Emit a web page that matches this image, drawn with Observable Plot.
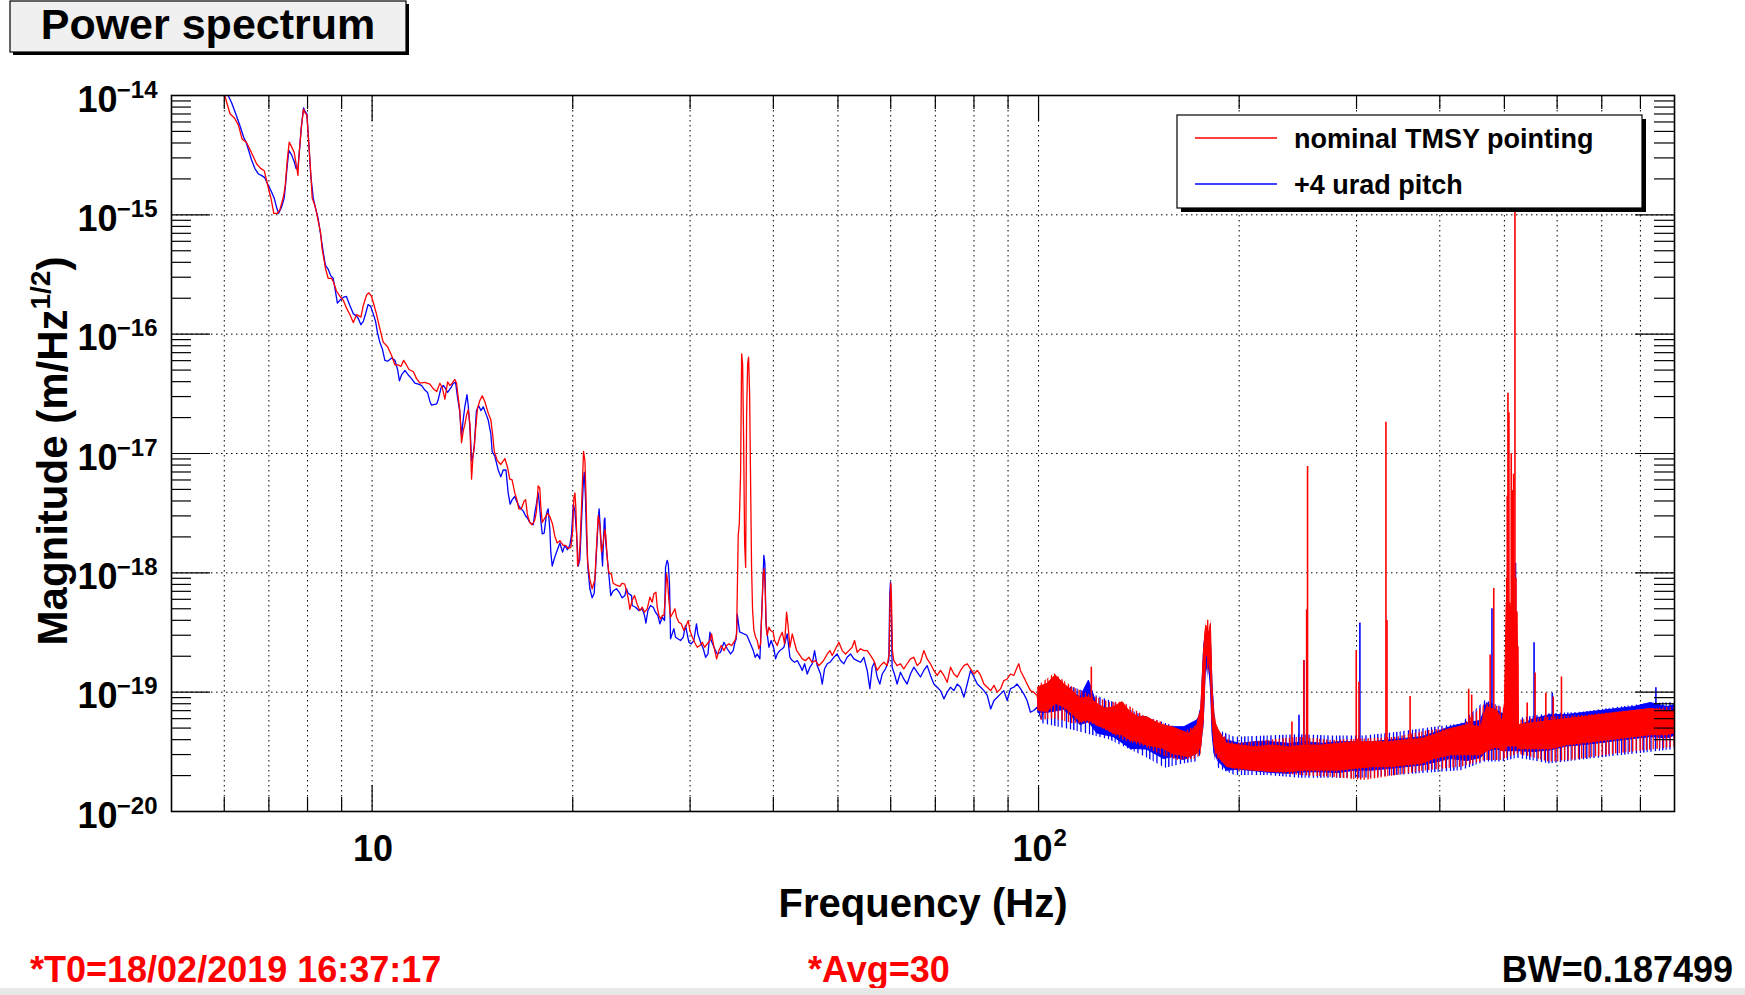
<!DOCTYPE html>
<html>
<head>
<meta charset="utf-8">
<script src="https://cdn.jsdelivr.net/npm/d3@7"></script>
<script src="https://cdn.jsdelivr.net/npm/@observablehq/plot@0.6"></script>
<style>
  html, body { margin: 0; padding: 0; background: #ffffff; }
  #wrap { position: relative; width: 1745px; height: 995px; overflow: hidden; font-family: "Liberation Sans", Arial, Helvetica, sans-serif; }
  #overlay { position: absolute; left: 0; top: 0; pointer-events: none; }
</style>
</head>
<body>
<div id="wrap">
  <div id="chart"></div>
  <svg id="overlay" width="1745" height="995" font-family="Liberation Sans, Arial, Helvetica, sans-serif" font-weight="bold">
    <defs>
      <pattern id="redStripes" patternUnits="userSpaceOnUse" width="17" height="10">
        <rect x="0" y="0" width="1.4" height="10" fill="#ff0000"></rect>
        <rect x="3.6" y="0" width="1.2" height="10" fill="#ff0000"></rect>
        <rect x="7.4" y="0" width="1.4" height="10" fill="#ff0000"></rect>
        <rect x="10.2" y="0" width="1.1" height="10" fill="#ff0000"></rect>
        <rect x="13.8" y="0" width="1.4" height="10" fill="#ff0000"></rect>
      </pattern>
      <pattern id="blueStripes" patternUnits="userSpaceOnUse" width="19" height="10">
        <rect x="1.8" y="0" width="1.3" height="10" fill="#0000ff"></rect>
        <rect x="5.9" y="0" width="1.2" height="10" fill="#0000ff"></rect>
        <rect x="9.1" y="0" width="1.4" height="10" fill="#0000ff"></rect>
        <rect x="12.6" y="0" width="1.1" height="10" fill="#0000ff"></rect>
        <rect x="16.3" y="0" width="1.3" height="10" fill="#0000ff"></rect>
      </pattern>
    </defs>
    <!-- title box -->
    <rect x="13" y="4" width="396" height="51" fill="#000"></rect>
    <rect x="10" y="1" width="396" height="51" fill="#f0f0f0" stroke="#000" stroke-width="1.2"></rect>
    <text id="titleText" x="208" y="39" text-anchor="middle" font-size="43"></text>
    <!-- legend -->
    <rect x="1181" y="119" width="465" height="93" fill="#000"></rect>
    <rect x="1177" y="115" width="465" height="93" fill="#fff" stroke="#000" stroke-width="1.2"></rect>
    <g id="legendItems"></g>
    <!-- y-axis title -->
    <text transform="translate(67,451) rotate(-90)" text-anchor="middle" font-size="42"><tspan id="yTitleMain"></tspan><tspan id="yTitleSup" dy="-17" font-size="28"></tspan><tspan id="yTitleEnd" dy="17"></tspan></text>
    <!-- footer -->
    <g id="footer"></g>
    <rect x="0" y="988" width="1745" height="7" fill="#e8e8e8"></rect>
  </svg>
</div>
<script>
// ---------------- DATA ----------------
const titleLabel = "Power spectrum";
const xTitle = "Frequency (Hz)";
const yTitleParts = ["Magnitude (m/Hz", "1/2", ")"];
const seriesNames = ["nominal TMSY pointing", "+4 urad pitch"];
const seriesColors = ["#ff0000", "#0000ff"];
const footerLeft = "*T0=18/02/2019 16:37:17";
const footerMid = "*Avg=30";
const footerRight = "BW=0.187499";

// axis ranges and ticks
const xDomain = [5, 900];
const yDomain = [1e-20, 1e-14];
const xMajorTicks = [10, 100];
const xMinorTicks = [6, 7, 8, 9, 20, 30, 40, 50, 60, 70, 80, 90, 200, 300, 400, 500, 600, 700, 800];
const yExponents = [-20, -19, -18, -17, -16, -15, -14];
const xTickLabelBase = ["10", "10"];
const xTickLabelExp = ["", "2"];

// nominal TMSY pointing (red): [frequency Hz, magnitude m/sqrt(Hz)]
const redLine = [[5.9,1.15e-14],[6.01,1.0e-14],[6.12,7.03e-15],[6.22,6.44e-15],[6.30,5.64e-15],[6.38,4.33e-15],[6.48,4.04e-15],[6.59,3.33e-15],[6.71,2.67e-15],[6.81,2.44e-15],[6.89,2.34e-15],[6.98,1.72e-15],[7.05,1.38e-15],[7.12,1.03e-15],[7.21,1.03e-15],[7.27,1.10e-15],[7.36,1.41e-15],[7.41,1.79e-15],[7.46,2.91e-15],[7.51,4.07e-15],[7.57,3.73e-15],[7.64,3.33e-15],[7.69,2.67e-15],[7.74,2.14e-15],[7.76,2.91e-15],[7.80,4.14e-15],[7.83,5.40e-15],[7.89,7.67e-15],[7.93,7.16e-15],[7.98,6.90e-15],[8.00,5.64e-15],[8.04,3.79e-15],[8.09,2.23e-15],[8.13,1.38e-15],[8.20,1.21e-15],[8.25,1.06e-15],[8.30,8.87e-16],[8.37,7.11e-16],[8.41,5.23e-16],[8.47,4.19e-16],[8.51,3.57e-16],[8.59,2.94e-16],[8.69,2.94e-16],[8.76,2.70e-16],[8.84,2.30e-16],[8.95,2.07e-16],[9.05,1.93e-16],[9.15,1.66e-16],[9.26,1.46e-16],[9.37,1.25e-16],[9.48,1.46e-16],[9.62,1.39e-16],[9.70,1.74e-16],[9.81,2.13e-16],[9.89,2.22e-16],[9.98,2.07e-16],[10.07,1.74e-16],[10.15,1.48e-16],[10.21,1.28e-16],[10.31,1.02e-16],[10.39,8.58e-17],[10.55,7.85e-17],[10.70,6.59e-17],[10.82,5.52e-17],[10.94,5.52e-17],[11.05,5.38e-17],[11.15,6.03e-17],[11.26,5.52e-17],[11.36,5.06e-17],[11.53,4.84e-17],[11.66,4.24e-17],[11.80,3.88e-17],[12.00,3.95e-17],[12.21,3.81e-17],[12.35,3.49e-17],[12.50,3.31e-17],[12.64,3.88e-17],[12.74,3.56e-17],[12.86,2.85e-17],[12.98,3.98e-17],[13.08,3.72e-17],[13.19,3.88e-17],[13.31,4.17e-17],[13.39,3.88e-17],[13.46,2.98e-17],[13.54,2.29e-17],[13.62,1.23e-17],[13.70,1.54e-17],[13.78,1.76e-17],[13.86,2.10e-17],[13.94,2.33e-17],[14.02,1.76e-17],[14.10,6.10e-18],[14.17,9.48e-18],[14.23,1.13e-17],[14.30,1.61e-17],[14.39,2.39e-17],[14.51,2.78e-17],[14.63,3.04e-17],[14.76,2.73e-17],[14.93,2.19e-17],[15.07,1.92e-17],[15.16,1.47e-17],[15.25,1.04e-17],[15.42,8.67e-18],[15.60,8.09e-18],[15.73,8.67e-18],[15.82,9.07e-18],[15.97,7.60e-18],[16.09,6.10e-18],[16.22,6.00e-18],[16.37,4.68e-18],[16.49,4.10e-18],[16.60,3.44e-18],[16.75,3.44e-18],[16.91,4.00e-18],[17.00,4.10e-18],[17.10,3.07e-18],[17.24,2.64e-18],[17.38,2.53e-18],[17.54,2.76e-18],[17.64,3.24e-18],[17.75,5.35e-18],[17.85,5.12e-18],[17.91,3.60e-18],[18.00,2.64e-18],[18.16,2.88e-18],[18.33,3.15e-18],[18.48,2.96e-18],[18.65,2.57e-18],[18.80,2.03e-18],[18.95,1.78e-18],[19.13,1.86e-18],[19.35,1.70e-18],[19.51,1.70e-18],[19.69,1.60e-18],[19.87,1.63e-18],[19.99,2.21e-18],[20.08,4.29e-18],[20.15,4.68e-18],[20.22,3.44e-18],[20.34,1.14e-18],[20.43,1.25e-18],[20.50,1.63e-18],[20.62,3.60e-18],[20.69,6.10e-18],[20.76,1.04e-17],[20.86,8.67e-18],[20.93,4.68e-18],[21.05,1.25e-18],[21.22,8.77e-19],[21.39,7.36e-19],[21.59,8.77e-19],[21.71,1.63e-18],[21.84,3.01e-18],[21.96,2.53e-18],[22.09,1.49e-18],[22.22,1.78e-18],[22.35,2.31e-18],[22.42,2.03e-18],[22.55,1.25e-18],[22.66,1.00e-18],[22.86,9.75e-19],[22.99,8.18e-19],[23.26,7.89e-19],[23.53,7.69e-19],[23.72,8.18e-19],[23.94,8.04e-19],[24.22,6.17e-19],[24.36,4.95e-19],
[24.56,5.86e-19],[24.76,6.46e-19],[24.99,5.43e-19],[25.22,4.83e-19],[25.43,5.15e-19],[25.63,4.68e-19],[25.87,4.99e-19],[26.11,6.25e-19],[26.32,5.67e-19],[26.47,6.67e-19],[26.66,6.89e-19],[26.78,5.15e-19],[26.94,4.39e-19],[27.09,4.11e-19],[27.25,4.39e-19],[27.41,4.39e-19],[27.56,6.67e-19],[27.66,9.82e-19],[27.75,8.63e-19],[27.88,5.86e-19],[28.04,4.25e-19],[28.30,4.68e-19],[28.47,4.99e-19],[28.63,4.25e-19],[28.86,3.86e-19],[29.10,3.74e-19],[29.36,3.29e-19],[29.60,3.62e-19],[29.81,3.98e-19],[29.98,3.29e-19],[30.23,2.89e-19],[30.47,2.62e-19],[30.75,2.38e-19],[31.04,2.46e-19],[31.29,2.62e-19],[31.54,2.38e-19],[31.83,2.54e-19],[32.13,2.71e-19],[32.31,3.08e-19],[32.58,2.38e-19],[32.88,1.90e-19],[33.14,2.23e-19],[33.41,2.46e-19],[33.72,2.23e-19],[34.03,2.46e-19],[34.31,2.54e-19],[34.62,2.46e-19],[34.90,2.62e-19],[35.11,2.80e-19],[35.23,3.08e-19],[35.31,6.67e-19],[35.43,2.06e-18],[35.56,2.57e-18],[35.72,6.75e-18],[35.85,6.84e-17],[35.97,5.64e-17],[36.10,1.21e-17],[36.22,1.75e-18],[36.35,1.11e-18],[36.47,2.15e-17],[36.60,5.64e-17],[36.72,6.41e-17],[36.85,3.16e-17],[36.98,5.40e-18],[37.10,1.11e-18],[37.23,4.83e-19],[37.40,3.29e-19],[37.62,2.89e-19],[37.83,2.71e-19],[38.05,2.31e-19],[38.27,2.54e-19],[38.49,5.67e-19],[38.62,9.82e-19],[38.76,1.08e-18],[38.89,7.11e-19],[39.03,3.40e-19],[39.16,2.99e-19],[39.39,3.51e-19],[39.61,3.29e-19],[39.98,3.18e-19],[40.17,2.71e-19],[40.54,2.46e-19],[40.91,2.89e-19],[41.25,3.18e-19],[41.58,2.54e-19],[41.87,4.68e-19],[42.06,3.74e-19],[42.36,2.38e-19],[42.70,3.08e-19],[42.95,2.71e-19],[43.35,2.23e-19],[43.70,2.09e-19],[44.20,1.90e-19],[44.71,1.84e-19],[45.23,1.96e-19],[45.75,1.78e-19],[46.28,1.84e-19],[46.81,1.67e-19],[47.36,1.78e-19],[47.74,1.90e-19],[48.19,2.09e-19],[48.63,2.23e-19],[49.02,2.03e-19],[49.59,2.31e-19],[50.16,2.62e-19],[50.74,2.23e-19],[51.33,2.09e-19],[51.92,2.23e-19],[52.52,2.38e-19],[52.95,2.71e-19],[53.44,2.16e-19],[54.06,2.31e-19],[54.69,2.23e-19],[55.32,2.23e-19],[55.96,2.03e-19],[56.60,1.84e-19],[57.26,1.52e-19],[57.92,1.67e-19],[58.59,1.78e-19],[59.27,1.67e-19],[59.68,2.09e-19],[59.88,6.25e-19],[60.02,8.18e-19],[60.16,6.05e-19],[60.36,2.23e-19],[60.64,1.84e-19],[61.34,1.67e-19],[62.05,1.73e-19],[62.77,1.57e-19],[63.50,1.73e-19],[64.24,1.90e-19],[64.98,1.96e-19],[65.74,1.67e-19],[66.50,1.78e-19],[67.27,2.23e-19],[68.05,1.90e-19],[68.84,1.73e-19],[69.64,1.52e-19],[70.45,1.38e-19],[71.27,1.52e-19],[72.10,1.38e-19],[72.93,1.21e-19],[73.78,1.62e-19],[74.64,1.42e-19],[75.50,1.34e-19],[76.38,1.52e-19],[77.27,1.67e-19],[78.16,1.73e-19],[79.07,1.57e-19],[79.99,1.42e-19],[80.92,1.52e-19],[81.86,1.38e-19],[82.80,1.17e-19],[83.77,1.10e-19],[84.74,1.03e-19],[85.72,1.14e-19],[86.72,1.00e-19],[87.72,1.07e-19],[88.70,1.25e-19],[89.73,1.29e-19],[90.76,1.42e-19],[91.80,1.38e-19],[92.86,1.62e-19],[93.40,1.73e-19],[93.93,1.52e-19],[95.01,1.34e-19],[96.12,1.17e-19],[97.23,1.03e-19],[98.35,1.00e-19],[99.49,9.38e-20],[100.4,7.02e-20],[101.2,7.73e-20],[102.0,9.08e-20],[103.0,1.10e-19],[104.2,1.03e-19],[105.4,1.14e-19],[106.0,1.38e-19],[106.6,1.17e-19],[107.8,9.68e-20]];

// red dense-noise core above 100 Hz: [frequency, lower edge, upper edge]
const redBand = [[100.0,7.02e-20,1.10e-19],[103.0,6.79e-20,1.17e-19],[106.1,7.98e-20,1.38e-19],[109.2,7.48e-20,1.17e-19],[112.3,6.58e-20,1.03e-19],[115.6,5.61e-20,8.79e-20],[119.0,5.79e-20,9.08e-20],[122.5,5.26e-20,7.98e-20],[126.1,4.93e-20,7.24e-20],[129.7,4.48e-20,7.48e-20],[133.6,4.34e-20,8.24e-20],[137.4,3.94e-20,6.79e-20],[141.4,3.81e-20,6.17e-20],[145.5,3.57e-20,6.17e-20],[149.8,3.46e-20,5.61e-20],[154.2,3.35e-20,5.26e-20],[158.7,3.04e-20,5.09e-20],[163.3,2.94e-20,4.78e-20],[168.1,2.85e-20,4.48e-20],[173.0,3.04e-20,5.26e-20],[175.4,3.46e-20,7.02e-20],[177.0,5.79e-20,2.09e-19],[178.5,2.09e-19,3.62e-19],[180.1,1.84e-19,3.08e-19],[181.4,1.42e-19,3.74e-19],[182.4,5.79e-20,1.10e-19],[183.7,3.46e-20,5.79e-20],[186.4,2.85e-20,4.78e-20],[191.9,2.35e-20,3.69e-20],[200.5,2.28e-20,3.57e-20],[211.7,2.20e-20,3.46e-20],[224.2,2.14e-20,3.57e-20],[237.5,2.14e-20,3.46e-20],[251.6,2.20e-20,3.57e-20],[266.5,2.20e-20,3.57e-20],[282.3,2.20e-20,3.69e-20],[299.2,2.28e-20,3.81e-20],[316.8,2.35e-20,3.81e-20],[335.7,2.35e-20,3.81e-20],[355.5,2.43e-20,3.94e-20],[376.6,2.51e-20,4.06e-20],[392,2.74e-20,4.36e-20],[415,2.96e-20,4.90e-20],[440,2.96e-20,5.30e-20],[461,2.96e-20,5.09e-20],[471,3.20e-20,7.50e-20],[488,3.46e-20,6.95e-20],[497,3.20e-20,5.73e-20],[501,3.20e-20,8.11e-20],[504,3.50e-20,5.6e-19],[522,3.50e-20,4.7e-19],[524,3.40e-20,2.4e-19],[526,3.33e-20,5.30e-20],[554,3.33e-20,5.51e-20],[587,3.33e-20,5.73e-20],[621,3.59e-20,5.95e-20],[658,3.73e-20,6.19e-20],[697,3.88e-20,6.43e-20],[739,4.04e-20,6.69e-20],[783,4.20e-20,6.95e-20],[829,4.36e-20,7.22e-20],[878,4.36e-20,6.95e-20],[900,4.53e-20,6.95e-20]];

// outer reach of the red noise tips: [frequency, lowest tip, highest tip]
const redTips = [[100.7,5.79e-20,1.17e-19],[105.7,5.98e-20,1.43e-19],[112.6,5.43e-20,1.10e-19],[120.0,5.43e-20,9.38e-20],[127.7,4.62e-20,8.24e-20],[134.1,3.94e-20,8.24e-20],[144.8,3.46e-20,6.18e-20],[153.1,2.94e-20,5.61e-20],[162.0,2.67e-20,4.34e-20],[172.4,2.76e-20,5.26e-20],[175.4,3.0e-20,7.5e-20],[177.0,5.0e-20,2.5e-19],[178.5,1.8e-19,4.0e-19],[181.4,1.2e-19,4.0e-19],[182.4,5.0e-20,1.3e-19],[184.0,3.0e-20,6.5e-20],[186.2,2.67e-20,4.62e-20],[197,2.21e-20,3.69e-20],[220.2,2.14e-20,3.94e-20],[246.2,2.00e-20,4.20e-20],[275.4,1.94e-20,3.94e-20],[307.9,1.82e-20,4.06e-20],[344.4,2.00e-20,4.20e-20],[385.1,2.21e-20,4.78e-20],[430.5,2.35e-20,5.09e-20],[468.2,2.67e-20,7.98e-20],[495.3,2.67e-20,7.48e-20],[523.6,3.04e-20,5.79e-20],[585.5,2.59e-20,6.18e-20],[654.8,2.76e-20,6.38e-20],[732.2,3.04e-20,6.79e-20],[818.8,3.24e-20,7.24e-20],[900,3.46e-20,7.48e-20]];

// red narrow lines: [frequency, foot, peak]
const redSpikes = [[120.0,8e-20,1.62e-19],[240.0,3.5e-20,5.61e-20],[250.1,3.5e-20,1.84e-19],[252.5,3.5e-20,4.9e-19],[253.3,3.5e-20,7.8e-18],[299.7,3.7e-20,2.23e-19],[302.5,3.7e-20,1.21e-19],[332.1,3.7e-20,1.83e-17],[333.3,3.7e-20,3.99e-19],[361.0,3.9e-20,9.2e-20],[442.0,5e-20,1.06e-19],[446.6,5e-20,9.47e-20],[476.0,6e-20,2.05e-19],[482.0,6e-20,7.4e-19],[504.0,5e-20,9.0e-19],[505.0,5e-20,4.4e-18],[506.2,5e-20,3.2e-17],[507.9,5e-20,2.2e-17],[509.6,5e-20,5.6e-19],[512.0,5e-20,1.0e-17],[514.4,5e-20,4.9e-18],[516.2,5e-20,6.7e-18],[518.6,5e-20,2e-15],[520.4,5e-20,9.0e-19],[522.2,5e-20,4.7e-19],[524.0,5e-20,2.4e-19],[541.0,5e-20,8.1e-20],[556.0,5e-20,1.45e-19],[577.0,5.5e-20,9.8e-20],[592.0,5.5e-20,9.1e-20],[609.0,5.5e-20,1.34e-19]];

// +4 urad pitch (blue)
const blueLine = [[6.0,1.15e-14],[6.08,1.0e-14],[6.15,8.77e-15],[6.26,6.73e-15],[6.33,5.64e-15],[6.41,4.53e-15],[6.48,3.96e-15],[6.59,2.91e-15],[6.67,2.44e-15],[6.75,2.20e-15],[6.82,2.14e-15],[6.90,2.05e-15],[6.98,1.79e-15],[7.06,1.57e-15],[7.13,1.38e-15],[7.19,1.15e-15],[7.24,1.03e-15],[7.31,1.15e-15],[7.38,1.38e-15],[7.41,1.72e-15],[7.45,2.44e-15],[7.50,3.47e-15],[7.57,3.18e-15],[7.64,2.79e-15],[7.69,2.44e-15],[7.74,2.48e-15],[7.79,3.79e-15],[7.83,5.40e-15],[7.89,7.88e-15],[7.93,7.35e-15],[7.98,7.03e-15],[8.00,5.89e-15],[8.04,3.79e-15],[8.09,2.14e-15],[8.16,1.38e-15],[8.22,1.15e-15],[8.30,9.27e-16],[8.38,6.52e-16],[8.45,4.79e-16],[8.51,3.77e-16],[8.59,3.51e-16],[8.67,3.08e-16],[8.74,2.94e-16],[8.79,2.47e-16],[8.87,1.82e-16],[8.95,1.93e-16],[9.05,2.03e-16],[9.15,2.07e-16],[9.26,1.74e-16],[9.37,1.48e-16],[9.46,1.43e-16],[9.53,1.36e-16],[9.62,1.20e-16],[9.70,1.28e-16],[9.77,1.46e-16],[9.86,1.77e-16],[9.95,1.71e-16],[10.04,1.48e-16],[10.12,1.28e-16],[10.19,1.02e-16],[10.27,8.58e-17],[10.36,7.52e-17],[10.45,6.03e-17],[10.55,5.93e-17],[10.70,6.31e-17],[10.82,6.03e-17],[10.92,5.06e-17],[10.99,4.06e-17],[11.07,4.55e-17],[11.20,4.97e-17],[11.33,4.55e-17],[11.46,4.24e-17],[11.59,3.88e-17],[11.73,3.81e-17],[11.86,3.72e-17],[12.00,3.40e-17],[12.11,3.25e-17],[12.21,2.73e-17],[12.28,2.54e-17],[12.50,2.61e-17],[12.57,2.85e-17],[12.69,3.56e-17],[12.79,3.72e-17],[12.89,3.49e-17],[12.98,3.25e-17],[13.13,3.56e-17],[13.24,3.88e-17],[13.34,3.95e-17],[13.43,2.98e-17],[13.53,2.29e-17],[13.62,1.41e-17],[13.70,1.92e-17],[13.78,2.50e-17],[13.88,3.11e-17],[13.94,2.50e-17],[14.04,1.47e-17],[14.10,8.67e-18],[14.17,9.48e-18],[14.23,1.13e-17],[14.34,2.29e-17],[14.46,2.50e-17],[14.56,2.29e-17],[14.68,2.46e-17],[14.80,2.19e-17],[14.93,1.92e-17],[15.07,1.47e-17],[15.14,1.04e-17],[15.28,9.48e-18],[15.37,8.29e-18],[15.46,7.27e-18],[15.60,6.37e-18],[15.73,7.27e-18],[15.88,7.27e-18],[16.00,4.68e-18],[16.11,3.76e-18],[16.22,4.10e-18],[16.37,4.36e-18],[16.49,3.93e-18],[16.60,3.66e-18],[16.72,3.44e-18],[16.86,3.29e-18],[16.99,3.01e-18],[17.10,2.88e-18],[17.24,2.64e-18],[17.45,2.53e-18],[17.54,3.15e-18],[17.64,3.76e-18],[17.75,4.68e-18],[17.81,3.93e-18],[17.91,2.76e-18],[18.00,2.12e-18],[18.12,2.15e-18],[18.27,3.15e-18],[18.37,3.44e-18],[18.48,2.31e-18],[18.54,1.49e-18],[18.63,1.14e-18],[18.76,1.31e-18],[18.91,1.49e-18],[19.13,1.78e-18],[19.31,1.49e-18],[19.46,1.70e-18],[19.64,1.56e-18],[19.80,1.70e-18],[19.92,2.12e-18],[20.04,3.76e-18],[20.15,3.29e-18],[20.27,2.12e-18],[20.39,1.14e-18],[20.50,1.31e-18],[20.62,2.76e-18],[20.74,5.58e-18],[20.81,6.97e-18],[20.90,4.29e-18],[20.97,2.12e-18],[21.09,1.05e-18],[21.22,7.36e-19],[21.39,6.17e-19],[21.54,6.75e-19],[21.69,1.36e-18],[21.84,2.76e-18],[21.91,3.44e-18],[22.04,1.94e-18],[22.17,1.14e-18],[22.30,2.76e-18],[22.35,2.88e-18],[22.42,1.78e-18],[22.53,1.36e-18],[22.66,9.59e-19],[22.81,6.44e-19],[22.99,7.05e-19],[23.26,7.36e-19],[23.53,6.75e-19],[23.72,6.17e-19],[23.94,6.44e-19],[24.08,7.36e-19],[24.22,6.75e-19],[24.51,6.44e-19],
[24.56,5.32e-19],[24.85,5.15e-19],[25.13,4.83e-19],[25.43,4.99e-19],[25.63,4.39e-19],[25.75,3.79e-19],[25.93,4.83e-19],[26.17,5.32e-19],[26.41,5.15e-19],[26.62,4.68e-19],[26.84,4.39e-19],[27.03,3.74e-19],[27.25,4.25e-19],[27.47,3.98e-19],[27.56,1.11e-18],[27.72,1.27e-18],[27.82,1.19e-18],[27.94,8.09e-19],[28.04,2.80e-19],[28.20,3.08e-19],[28.36,3.40e-19],[28.53,2.89e-19],[28.76,2.80e-19],[29.03,2.71e-19],[29.30,2.89e-19],[29.53,3.62e-19],[29.70,3.08e-19],[29.87,2.62e-19],[30.11,2.54e-19],[30.39,2.71e-19],[30.67,3.74e-19],[30.81,3.08e-19],[31.11,2.62e-19],[31.40,2.31e-19],[31.65,1.96e-19],[31.91,2.09e-19],[32.13,3.18e-19],[32.27,2.71e-19],[32.58,2.38e-19],[32.95,2.09e-19],[33.33,2.16e-19],[33.72,2.62e-19],[34.11,2.31e-19],[34.50,2.09e-19],[34.82,2.23e-19],[35.03,2.62e-19],[35.19,2.80e-19],[35.31,4.5e-19],[35.6,3.2e-19],[36.5,3.0e-19],[37.32,2.23e-19],[37.57,1.96e-19],[37.83,2.09e-19],[38.18,1.90e-19],[38.49,5.86e-19],[38.71,1.40e-18],[38.85,1.19e-18],[38.98,3.98e-19],[39.16,3.08e-19],[39.39,2.38e-19],[39.70,2.71e-19],[40.08,2.31e-19],[40.31,1.90e-19],[40.54,2.09e-19],[40.91,2.23e-19],[41.25,2.31e-19],[41.48,2.38e-19],[41.96,3.08e-19],[42.36,1.96e-19],[42.70,1.84e-19],[43.05,1.78e-19],[43.45,1.84e-19],[43.85,1.67e-19],[44.20,1.52e-19],[44.56,1.73e-19],[44.97,1.42e-19],[45.38,1.62e-19],[45.75,1.73e-19],[46.12,2.23e-19],[46.54,1.67e-19],[47.08,1.42e-19],[47.36,1.17e-19],[47.74,1.57e-19],[48.19,1.73e-19],[48.63,1.78e-19],[49.30,1.96e-19],[49.87,2.09e-19],[50.45,1.84e-19],[51.03,1.73e-19],[51.62,1.96e-19],[52.22,2.09e-19],[52.83,1.90e-19],[53.44,1.84e-19],[54.06,1.78e-19],[54.69,1.96e-19],[55.32,1.52e-19],[55.83,1.07e-19],[56.28,1.62e-19],[56.73,1.78e-19],[57.26,1.34e-19],[57.79,1.17e-19],[58.26,1.42e-19],[58.93,1.57e-19],[59.61,1.84e-19],[59.81,6.67e-19],[59.95,8.36e-19],[60.09,6.67e-19],[60.29,1.62e-19],[60.78,1.42e-19],[61.34,1.17e-19],[62.05,1.47e-19],[62.77,1.29e-19],[63.50,1.17e-19],[64.24,1.42e-19],[64.98,1.62e-19],[65.74,1.47e-19],[66.50,1.34e-19],[67.27,1.52e-19],[68.05,1.67e-19],[68.84,1.38e-19],[69.64,1.17e-19],[70.45,1.10e-19],[71.27,1.03e-19],[72.10,8.79e-20],[72.93,1.00e-19],[73.78,1.10e-19],[74.64,1.03e-19],[75.50,1.17e-19],[76.38,1.10e-19],[77.27,9.08e-20],[78.16,1.17e-19],[79.07,1.52e-19],[79.99,1.34e-19],[80.92,1.17e-19],[81.86,1.10e-19],[82.80,1.03e-19],[83.77,9.38e-20],[84.74,7.24e-20],[85.72,8.51e-20],[86.72,9.08e-20],[87.72,9.68e-20],[88.70,1.03e-19],[89.73,8.51e-20],[90.76,1.07e-19],[91.80,1.10e-19],[92.86,1.17e-19],[93.93,1.07e-19],[95.01,9.68e-20],[96.12,8.51e-20],[97.23,6.79e-20],[98.35,7.02e-20],[99.49,7.48e-20],[100.9,5.97e-20],[101.8,7.02e-20],[103.0,7.98e-20],[104.2,8.79e-20],[105.4,1.07e-19],[106.6,1.03e-19],[107.8,1.10e-19]];

const blueBand = [[100.0,6.7e-20,9.68e-20],[103.0,6.7e-20,1.17e-19],[109.2,7.1e-20,1.10e-19],[112.3,6.2e-20,1.00e-19],[115.6,5.3e-20,9.08e-20],[119.0,5.6e-20,1.25e-19],[122.5,4.5e-20,7.73e-20],[129.7,4.2e-20,7.02e-20],[137.4,3.35e-20,6.17e-20],[145.5,3.3e-20,6.17e-20],[154.2,2.75e-20,4.78e-20],[158.7,2.85e-20,5.09e-20],[165.5,2.7e-20,5.09e-20],[173.0,3.04e-20,5.79e-20],[175.4,3.46e-20,6.58e-20],[177.0,5.79e-20,2.09e-19],[178.5,1.84e-19,3.08e-19],[180.1,1.62e-19,2.89e-19],[181.4,1.17e-19,2.71e-19],[182.4,4.48e-20,1.17e-19],[183.7,3.04e-20,5.43e-20],[186.4,2.6e-20,4.48e-20],[191.9,2.2e-20,3.94e-20],[200.5,2.24e-20,3.69e-20],[211.7,2.17e-20,3.81e-20],[224.2,2.1e-20,3.81e-20],[237.5,2.07e-20,3.69e-20],[251.6,2.13e-20,3.81e-20],[266.5,2.13e-20,3.69e-20],[282.3,2.1e-20,3.81e-20],[299.2,2.2e-20,3.81e-20],[316.8,2.2e-20,3.81e-20],[335.7,2.27e-20,3.94e-20],[355.5,2.35e-20,4.06e-20],[376.6,2.43e-20,4.20e-20],[392,2.55e-20,4.53e-20],[415,2.75e-20,5.09e-20],[440,2.65e-20,5.51e-20],[461,2.8e-20,5.73e-20],[471,3.20e-20,8.11e-20],[488,3.3e-20,6.95e-20],[501,3.20e-20,6.43e-20],[523,3.20e-20,5.09e-20],[554,3.15e-20,5.95e-20],[587,3.25e-20,6.43e-20],[621,3.5e-20,6.43e-20],[658,3.6e-20,6.69e-20],[697,3.73e-20,6.95e-20],[739,3.9e-20,7.22e-20],[783,4.05e-20,7.50e-20],[829,4.2e-20,8.11e-20],[878,4.1e-20,7.50e-20],[900,4.3e-20,7.80e-20]];

const blueTips = [[100.7,5.5e-20,1.10e-19],[112.6,4.8e-20,1.10e-19],[127.7,4.0e-20,8.5e-20],[144.8,2.85e-20,6.2e-20],[155,2.3e-20,5.5e-20],[165,2.5e-20,4.8e-20],[172.4,2.6e-20,5.5e-20],[175.4,3.0e-20,7.5e-20],[177,5.0e-20,2.5e-19],[178.5,1.6e-19,3.5e-19],[181.4,1.0e-19,3.2e-19],[182.4,4.0e-20,1.3e-19],[184,2.7e-20,6.5e-20],[186.2,2.3e-20,4.8e-20],[197,2.0e-20,4.2e-20],[220.2,2.0e-20,4.3e-20],[246.2,1.9e-20,4.4e-20],[275.4,1.9e-20,4.3e-20],[307.9,1.9e-20,4.3e-20],[344.4,2.0e-20,4.6e-20],[385.1,2.1e-20,5.0e-20],[430.5,2.2e-20,5.4e-20],[468.2,2.6e-20,8.5e-20],[495.3,2.6e-20,7.5e-20],[523.6,2.8e-20,6.0e-20],[585.5,2.5e-20,6.6e-20],[654.8,2.7e-20,6.8e-20],[732.2,2.9e-20,7.4e-20],[818.8,3.1e-20,8.0e-20],[900,3.3e-20,8.2e-20]];

const blueSpikes = [[245.9,3.5e-20,6.4e-20],[250.1,3.5e-20,1.84e-19],[303.5,3.7e-20,3.79e-19],[479.0,6e-20,5.0e-19],[519.6,5e-20,1.2e-18],[554.0,5e-20,2.6e-19],[590.0,5.5e-20,9.8e-20],[844.0,7e-20,1.09e-19]];

// ---------------- RENDER ----------------
const W = 1745, H = 995;
const mL = 171, mR = 71, mT = 95, mB = 184;
const innerW = W - mL - mR, innerH = H - mT - mB;
const font = "Liberation Sans, Arial, Helvetica, sans-serif";

const yMajor = yExponents.map(e => Math.pow(10, e));
const yGrid = yMajor.slice(1, -1);
const yMinor = [];
yExponents.slice(0, -1).forEach(e => { for (let k = 2; k <= 9; k++) yMinor.push(k * Math.pow(10, e)); });
const xGrid = [...xMinorTicks, ...xMajorTicks];
const xLabels = xMajorTicks.map((v, i) => ({v, base: xTickLabelBase[i], exp: xTickLabelExp[i]}));
const yLabels = yExponents.map(e => ({v: Math.pow(10, e), exp: "\u2212" + Math.abs(e)}));

const lineStyle = (c) => ({x: d => d[0], y: d => d[1], stroke: c, strokeWidth: 1.3, clip: true});
const bandStyle = (c) => ({x: d => d[0], y1: d => d[1], y2: d => d[2], fill: c, stroke: c, strokeWidth: 1, clip: true});
const tipStyle = (p) => ({x: d => d[0], y1: d => d[1], y2: d => d[2], fill: p, clip: true});
const spikeStyle = (c) => ({x: d => d[0], y1: d => d[1], y2: d => d[2], stroke: c, strokeWidth: 1.6, clip: true});
const grid = {stroke: "#000", strokeWidth: 1, strokeDasharray: "1.5,3.5"};
const bold = {fontWeight: "bold", fill: "#000", fontFamily: font, lineAnchor: "bottom"};

const chart = Plot.plot({
  width: W, height: H,
  marginLeft: mL, marginRight: mR, marginTop: mT, marginBottom: mB,
  style: {background: "white", fontFamily: font, overflow: "visible"},
  x: {type: "log", domain: xDomain, axis: null},
  y: {type: "log", domain: yDomain, axis: null},
  marks: [
    Plot.ruleX(xGrid, grid),
    Plot.ruleY(yGrid, grid),
    Plot.areaY(blueTips, tipStyle("url(#blueStripes)")),
    Plot.areaY(blueBand, bandStyle(seriesColors[1])),
    Plot.line(blueLine, lineStyle(seriesColors[1])),
    Plot.ruleX(blueSpikes, spikeStyle(seriesColors[1])),
    Plot.areaY(redTips, tipStyle("url(#redStripes)")),
    Plot.areaY(redBand, bandStyle(seriesColors[0])),
    Plot.line(redLine, lineStyle(seriesColors[0])),
    Plot.ruleX(redSpikes, spikeStyle(seriesColors[0])),
    // inward ticks
    Plot.ruleX(xMajorTicks, {stroke: "#000", strokeWidth: 1.2, insetTop: innerH - 26}),
    Plot.ruleX(xMajorTicks, {stroke: "#000", strokeWidth: 1.2, insetBottom: innerH - 26}),
    Plot.ruleX(xMinorTicks, {stroke: "#000", strokeWidth: 1.2, insetTop: innerH - 14}),
    Plot.ruleX(xMinorTicks, {stroke: "#000", strokeWidth: 1.2, insetBottom: innerH - 14}),
    Plot.ruleY(yMajor, {stroke: "#000", strokeWidth: 1.2, insetRight: innerW - 39}),
    Plot.ruleY(yMajor, {stroke: "#000", strokeWidth: 1.2, insetLeft: innerW - 39}),
    Plot.ruleY(yMinor, {stroke: "#000", strokeWidth: 1.2, insetRight: innerW - 20}),
    Plot.ruleY(yMinor, {stroke: "#000", strokeWidth: 1.2, insetLeft: innerW - 20}),
    Plot.frame({stroke: "#000", strokeWidth: 1.6}),
    // y tick labels 10^e
    Plot.text(yLabels, {...bold, y: d => d.v, text: () => "10", frameAnchor: "left", textAnchor: "end", dx: -54, dy: 16, fontSize: 36}),
    Plot.text(yLabels, {...bold, y: d => d.v, text: d => d.exp, frameAnchor: "left", textAnchor: "end", dx: -14, dy: 2, fontSize: 24}),
    // x tick labels
    Plot.text(xLabels.filter(d => !d.exp), {...bold, x: d => d.v, text: d => d.base, frameAnchor: "bottom", textAnchor: "middle", dx: 1, dy: 49, fontSize: 36}),
    Plot.text(xLabels.filter(d => d.exp), {...bold, x: d => d.v, text: d => d.base, frameAnchor: "bottom", textAnchor: "start", dx: -26, dy: 49, fontSize: 36}),
    Plot.text(xLabels.filter(d => d.exp), {...bold, x: d => d.v, text: d => d.exp, frameAnchor: "bottom", textAnchor: "start", dx: 15, dy: 34, fontSize: 24}),
    // x axis title
    Plot.text([xTitle], {...bold, frameAnchor: "bottom", textAnchor: "middle", dx: 0, dy: 105, fontSize: 40})
  ]
});
document.getElementById("chart").appendChild(chart);

// overlay texts
const ns = "http://www.w3.org/2000/svg";
document.getElementById("titleText").textContent = titleLabel;
document.getElementById("yTitleMain").textContent = yTitleParts[0];
document.getElementById("yTitleSup").textContent = yTitleParts[1];
document.getElementById("yTitleEnd").textContent = yTitleParts[2];

const leg = document.getElementById("legendItems");
seriesNames.forEach((name, i) => {
  const ly = [138, 184][i], ty = [148, 194][i];
  const ln = document.createElementNS(ns, "line");
  ln.setAttribute("x1", 1195); ln.setAttribute("x2", 1277);
  ln.setAttribute("y1", ly); ln.setAttribute("y2", ly);
  ln.setAttribute("stroke", seriesColors[i]); ln.setAttribute("stroke-width", 1.4);
  leg.appendChild(ln);
  const t = document.createElementNS(ns, "text");
  t.setAttribute("x", 1294); t.setAttribute("y", ty);
  t.setAttribute("font-size", 27);
  t.textContent = name;
  leg.appendChild(t);
});

const foot = document.getElementById("footer");
[[footerLeft, 30, "start", "#ff0000"], [footerMid, 808, "start", "#ff0000"], [footerRight, 1733, "end", "#000"]].forEach(([s, x, a, c]) => {
  const t = document.createElementNS(ns, "text");
  t.setAttribute("x", x); t.setAttribute("y", 982);
  t.setAttribute("text-anchor", a); t.setAttribute("fill", c);
  t.setAttribute("font-size", 36);
  t.textContent = s;
  foot.appendChild(t);
});
</script>
</body>
</html>
